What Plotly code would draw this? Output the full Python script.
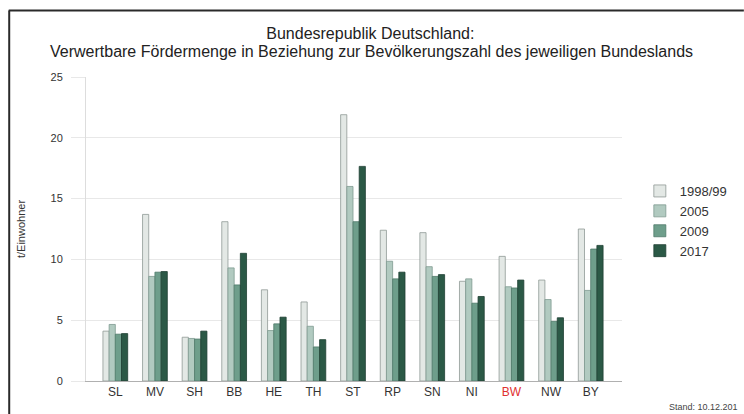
import plotly.graph_objects as go

categories = ["SL", "MV", "SH", "BB", "HE", "TH", "ST", "RP", "SN", "NI", "BW", "NW", "BY"]
series_names = ["1998/99", "2005", "2009", "2017"]
v_1998 = [4.1, 13.7, 3.6, 13.1, 7.5, 6.5, 21.9, 12.4, 12.2, 8.2, 10.25, 8.3, 12.5]
v_2005 = [4.65, 8.6, 3.5, 9.3, 4.15, 4.5, 16.0, 9.85, 9.4, 8.4, 7.75, 6.7, 7.45]
v_2009 = [3.85, 8.95, 3.45, 7.9, 4.7, 2.8, 13.1, 8.4, 8.6, 6.4, 7.65, 4.9, 10.85]
v_2017 = [3.9, 9.0, 4.1, 10.5, 5.25, 3.4, 17.65, 8.95, 8.75, 6.95, 8.3, 5.2, 11.15]
y_ticks = [0, 5, 10, 15, 20, 25]
tick_labels = [("<span style='color:#e03030'>%s</span>" % c) if c == "BW" else c for c in categories]

values = [v_1998, v_2005, v_2009, v_2017]
fills = ["#e3e8e5", "#b1cac0", "#6e9e8b", "#2b5946"]
outlines = ["#8f9995", "#7f9a90", "#4f7a69", "#1e3f32"]

fig = go.Figure()
for name, vals, fc, lc in zip(series_names, values, fills, outlines):
    fig.add_trace(go.Bar(x=list(range(len(categories))), y=vals, name=name,
                         marker=dict(color=fc, line=dict(color=lc, width=0.8))))

W, H = 744, 414
L, R, T, B = 86, 117, 77, 33
pw, ph = W - L - R, H - T - B

def px_x(p):
    return (p - L) / pw

def px_y(p):
    return (H - B - p) / ph

font = "Liberation Sans, Arial, sans-serif"
fig.update_layout(
    width=W, height=H,
    margin=dict(l=L, r=R, t=T, b=B),
    paper_bgcolor="white", plot_bgcolor="white",
    barmode="group", bargap=0.375, bargroupgap=0,
    font=dict(family=font, color="#333333", size=11),
    title=dict(text="Bundesrepublik Deutschland:",
               x=px_x(373), xref="paper", xanchor="center",
               y=1 - 33 / H, yref="container", yanchor="middle",
               font=dict(size=16, color="#222222", family=font)),
    xaxis=dict(range=[-0.74, 12.79], tickmode="array",
               tickvals=list(range(len(categories))), ticktext=tick_labels,
               showgrid=False, showline=True, linecolor="#b0b0b0", linewidth=1,
               ticks="", tickfont=dict(size=12, color="#333333"), zeroline=False),
    yaxis=dict(range=[0, 25], tickmode="array", tickvals=y_ticks,
               showgrid=True, gridcolor="#e8e8e8", gridwidth=1,
               showline=True, linecolor="#dddddd", linewidth=1,
               ticks="outside", ticklen=14, tickcolor="#e8e8e8",
               ticklabelstandoff=6,
               zeroline=False, tickfont=dict(size=11, color="#333333"),
               title=dict(text="t/Einwohner", font=dict(size=11, color="#333333"), standoff=22)),
    legend=dict(x=px_x(645), y=px_y(176), xanchor="left", yanchor="top",
                font=dict(size=13, color="#333333"), bgcolor="rgba(0,0,0,0)",
                itemwidth=30, tracegroupgap=0),
    showlegend=True,
    shapes=[
        dict(type="line", xref="paper", yref="paper",
             x0=px_x(8), x1=px_x(750), y0=px_y(10.5), y1=px_y(10.5),
             line=dict(color="#2a2a2a", width=2)),
        dict(type="line", xref="paper", yref="paper",
             x0=px_x(8.5), x1=px_x(8.5), y0=px_y(10.5), y1=px_y(420),
             line=dict(color="#2a2a2a", width=2)),
    ],
    annotations=[
        dict(text="Verwertbare Fördermenge in Beziehung zur Bevölkerungszahl des jeweiligen Bundeslands",
             xref="paper", yref="paper", x=px_x(374), y=px_y(51),
             xanchor="center", yanchor="middle", showarrow=False,
             font=dict(size=16, color="#222222", family=font)),
        dict(text="Stand: 10.12.201", xref="paper", yref="paper",
             x=px_x(672), y=px_y(407), xanchor="left", yanchor="middle",
             showarrow=False, font=dict(size=9, color="#444444")),
    ],
)

fig.write_html("out.html", config={"displayModeBar": False},
               post_script="document.body.style.margin='0';document.body.style.padding='0';")
